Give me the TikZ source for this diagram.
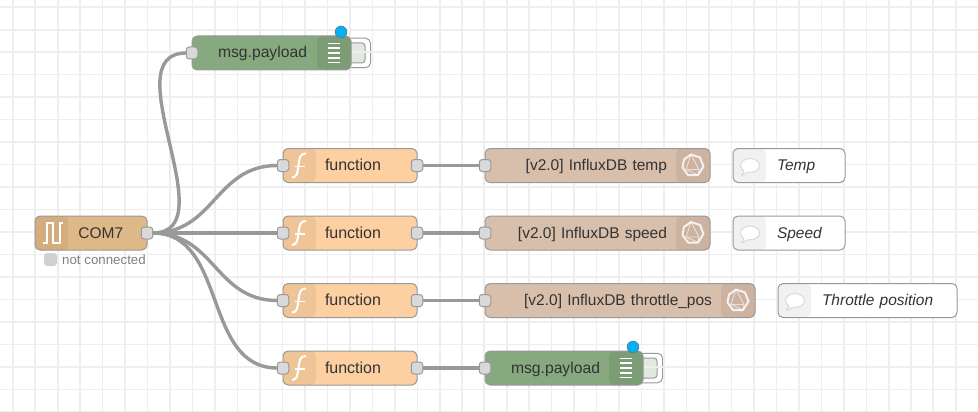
\documentclass[tikz,border=0pt]{standalone}
\usepackage{fontspec}
\usepackage{xcolor}
\usetikzlibrary{positioning,backgrounds}
\setmainfont{Liberation Sans}
\newcommand{\labelstrut}{\rule[-6pt]{0pt}{22pt}}
\definecolor{gridGrey}{HTML}{EEEEEE}
\definecolor{edgeGrey}{HTML}{999999}
\definecolor{wireGrey}{HTML}{999999}
\definecolor{portGrey}{HTML}{D9D9D9}
\definecolor{labelInk}{HTML}{333333}
\definecolor{serialTan}{HTML}{DEB887}
\definecolor{serialIcon}{HTML}{D3AD7E}
\definecolor{funcPeach}{HTML}{FDD0A2}
\definecolor{funcIcon}{HTML}{EFC598}
\definecolor{fluxBeige}{HTML}{D8BFAB}
\definecolor{fluxIcon}{HTML}{CDB2A0}
\definecolor{debugGreen}{HTML}{87A980}
\definecolor{debugIcon}{HTML}{7C9C76}
\definecolor{debugBtn}{HTML}{E2E8DF}
\definecolor{noteIcon}{HTML}{F1F1F1}
\definecolor{dotBlue}{HTML}{05AEF5}

\begin{document}
\begin{tikzpicture}[
        x=1pt,y=-1pt,
        every node/.style={font=\fontsize{15.5}{18}\selectfont},
        nodebox/.style={rectangle,rounded corners=5pt,draw=edgeGrey,line width=1pt,
                    minimum height=34pt,inner xsep=0pt,inner ysep=0pt,outer sep=0pt,text=labelInk},
        iconleft/.style={path picture={\fill[#1] (path picture bounding box.north west)
                    rectangle ([xshift=33pt]path picture bounding box.south west);}},
        iconright/.style={path picture={\fill[#1] ([xshift=-34pt]path picture bounding box.north east)
                    rectangle (path picture bounding box.south east);}},
        serialbox/.style={nodebox,fill=serialTan,iconleft=serialIcon,text width=112pt,align=left,
                    execute at begin node=\hspace*{43.5pt}\labelstrut},
        funcbox/.style={nodebox,fill=funcPeach,iconleft=funcIcon,text width=134pt,align=left,
                    font=\fontsize{16}{18}\selectfont,
                    execute at begin node=\hspace*{42pt}\labelstrut},
        fluxbox/.style={nodebox,fill=fluxBeige,iconright=fluxIcon,text width=#1,align=right,
                    execute at begin node=\labelstrut,
                    execute at end node=\hspace*{43pt}\null},
        debugbox/.style={nodebox,fill=debugGreen,iconright=debugIcon,text width=#1,align=left,
                    font=\fontsize{15.7}{18}\selectfont,
                    execute at begin node=\hspace*{26pt}\labelstrut},
        notebox/.style={nodebox,fill=white,iconleft=noteIcon,text width=#1,align=left,
                    font=\fontsize{15.5}{18}\selectfont\itshape,
                    execute at begin node=\hspace*{44pt}\labelstrut},
        port/.style={rectangle,rounded corners=3pt,draw=edgeGrey,fill=portGrey,line width=1pt,
                    minimum width=11.5pt,minimum height=12pt,inner sep=0pt,outer sep=0pt},
        btnout/.style={rectangle,rounded corners=5pt,draw=edgeGrey,fill=white,line width=1pt,
                    minimum width=27pt,minimum height=29.5pt,inner sep=0pt,outer sep=0pt},
        btnin/.style={rectangle,rounded corners=3pt,draw=edgeGrey,fill=debugBtn,line width=1pt,
                    minimum width=20pt,minimum height=20pt,inner sep=0pt,outer sep=0pt},
        bluedot/.style={circle,draw=black!60,fill=dotBlue,line width=0.4pt,
                    minimum size=12pt,inner sep=0pt,outer sep=0pt},
        statusbox/.style={rectangle,rounded corners=3pt,fill=black!18,
                    minimum size=13pt,inner sep=0pt,outer sep=0pt},
        statustext/.style={inner sep=0pt,text=black!50,font=\fontsize{13.3}{16}\selectfont},
        wire/.style={draw=wireGrey,line width=3.4pt},
        gridthin/.style={draw=gridGrey,line width=1.2pt},
        gridthick/.style={draw=gridGrey,line width=2pt},
        glyph/.style={draw=white,line width=2.2pt},
        fglyph/.pic={
          \draw[glyph,line width=2pt] (9,12) .. controls (14,12) and (14.5,7) .. (15.5,0)
              .. controls (16.5,-8) and (17,-12) .. (23,-12);
          \draw[glyph,line width=1.5pt] (12,1) -- (22,1);
        },
        pulseglyph/.pic={
          \draw[glyph] (8,10) -- (12,10) -- (12,-10) -- (18,-10) -- (18,10) -- (25,10) -- (25,-10) -- (28,-10);
        },
        listglyph/.pic={
          \draw[glyph,line width=1.6pt] (-6,-9.6) -- (6,-9.6) (-6,-4.8) -- (6,-4.8) (-6,0) -- (6,0)
              (-6,4.8) -- (6,4.8) (-6,9.6) -- (6,9.6);
        },
        polyglyph/.pic={
          \draw[glyph,line width=2pt,draw=white!90!gray,line join=round] (-2,-11) -- (7,-8) -- (10.5,1) -- (5,9.5) -- (-5,9.5)
              -- (-10.5,2) -- (-9,-6) -- cycle;
          \draw[draw=white,opacity=0.6,line width=0.9pt] (-2,-11) -- (-7,4) -- (5,9.5) -- (6,4) -- (-2,-11) (-7,4) -- (6,4);
        },
        bubbleglyph/.pic={
          \draw[draw=black!15,fill=white,line width=1pt,line join=round]
              (-6,5.5) -- (-8.5,10) -- (-2,6.8) .. controls (5,7.5) and (9.5,4) .. (9.5,0)
              .. controls (9.5,-4) and (5,-7) .. (0,-7)
              .. controls (-5,-7) and (-9.5,-4) .. (-9.5,0) .. controls (-9.5,2.5) and (-8,4.5) .. cycle;
        }
      ]
        \useasboundingbox (0,0) rectangle (978,412);
        % editor grid
        \foreach \gx in {13,57.9,...,978} \draw[gridthin] (\gx,0) -- (\gx,412);
        \foreach \gx in {35.4,80.3,...,978} \draw[gridthick] (\gx,0) -- (\gx,412);
        \foreach \gy in {30,74.9,...,412} \draw[gridthin] (0,\gy) -- (978,\gy);
        \foreach \gy in {7.5,52.4,...,412} \draw[gridthick] (0,\gy) -- (978,\gy);

        \node[serialbox] (com7) at (91,233) {COM7};
        \node[funcbox] (fn1) at (350,165.5) {function};
        \node[funcbox,below=33.5pt of fn1] (fn2) {function};
        \node[funcbox,below=33.5pt of fn2] (fn3) {function};
        \node[funcbox,below=33.5pt of fn3] (fn4) {function};
        \node[debugbox=159pt] (dbg1) at (271.5,53) {msg.payload};
        \node[fluxbox=225pt,right=68pt of fn1] (flux1) {[v2.0] InfluxDB temp};
        \node[fluxbox=225pt,right=68pt of fn2] (flux2) {[v2.0] InfluxDB speed};
        \node[fluxbox=270pt,right=68pt of fn3] (flux3) {[v2.0] InfluxDB throttle\_pos};
        \node[debugbox=158pt,right=68pt of fn4] (dbg2) {msg.payload};
        \node[notebox=112pt,right=23pt of flux1] (note1) {Temp};
        \node[notebox=112pt,right=23pt of flux2] (note2) {Speed};
        \node[notebox=179pt,right=23pt of flux3] (note3) {Throttle position};

        % debug buttons sit behind their nodes
        \begin{scope}[on background layer]
          \node[btnout,anchor=east] (btn1) at ([xshift=19.5pt]dbg1.east) {};
          \node[btnin,anchor=east] (btn1in) at ([xshift=14pt]dbg1.east) {};
          \node[btnout,anchor=east] (btn2) at ([xshift=19.5pt]dbg2.east) {};
          \node[btnin,anchor=east] (btn2in) at ([xshift=14pt]dbg2.east) {};
        \end{scope}
        \node[bluedot] (dot1) at ([xshift=-10pt,yshift=4pt]dbg1.north east) {};
        \node[bluedot] (dot2) at ([xshift=-10pt,yshift=4pt]dbg2.north east) {};

        \node[statusbox] (status) at ([xshift=15.5pt,yshift=-9.5pt]com7.south west) {};
        \node[statustext,right=5pt of status] (statuslbl) {not connected};

        \pic at (com7.west) {pulseglyph};
        \pic at (fn1.west) {fglyph};
        \pic at (fn2.west) {fglyph};
        \pic at (fn3.west) {fglyph};
        \pic at (fn4.west) {fglyph};
        \pic at ([xshift=-17pt]dbg1.east) {listglyph};
        \pic at ([xshift=-17pt]dbg2.east) {listglyph};
        \pic at ([xshift=-17pt]flux1.east) {polyglyph};
        \pic at ([xshift=-17pt]flux2.east) {polyglyph};
        \pic at ([xshift=-17pt]flux3.east) {polyglyph};
        \pic at ([xshift=17pt]note1.west) {bubbleglyph};
        \pic at ([xshift=17pt]note2.west) {bubbleglyph};
        \pic at ([xshift=17pt]note3.west) {bubbleglyph};

        \node[port] (com7out) at (com7.east) {};
        \node[port] (dbg1in) at (dbg1.west) {};
        \node[port] (dbg2in) at (dbg2.west) {};
        \node[port] (fn1in) at (fn1.west) {};
        \node[port] (fn1out) at (fn1.east) {};
        \node[port] (fn2in) at (fn2.west) {};
        \node[port] (fn2out) at (fn2.east) {};
        \node[port] (fn3in) at (fn3.west) {};
        \node[port] (fn3out) at (fn3.east) {};
        \node[port] (fn4in) at (fn4.west) {};
        \node[port] (fn4out) at (fn4.east) {};
        \node[port] (flux1in) at (flux1.west) {};
        \node[port] (flux2in) at (flux2.west) {};
        \node[port] (flux3in) at (flux3.west) {};

        \draw[wire] (com7out.east) .. controls +(75,0) and +(-75,0) .. (dbg1in.west);
        \draw[wire] (com7out.east) .. controls +(62,0) and +(-62,0) .. (fn1in.west);
        \draw[wire] (com7out.east) -- (fn2in.west);
        \draw[wire] (com7out.east) .. controls +(62,0) and +(-62,0) .. (fn3in.west);
        \draw[wire] (com7out.east) .. controls +(75,0) and +(-75,0) .. (fn4in.west);
        \draw[wire] (fn1out) -- (flux1in);
        \draw[wire] (fn2out) -- (flux2in);
        \draw[wire] (fn3out) -- (flux3in);
        \draw[wire] (fn4out) -- (dbg2in);
      \end{tikzpicture}
\end{document}
